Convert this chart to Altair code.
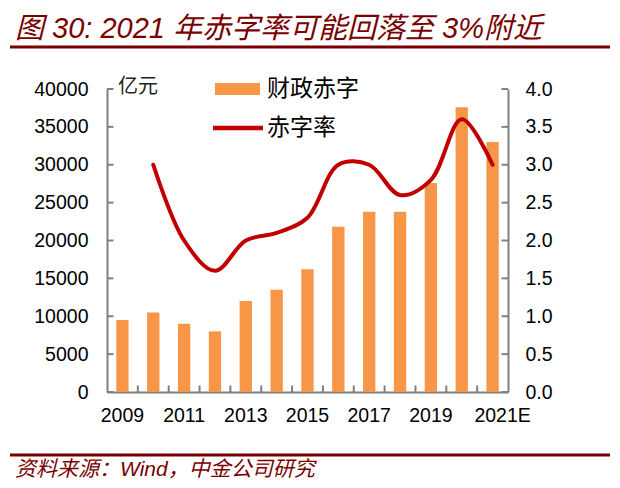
import altair as alt
import pandas as pd

# ---------------- data ----------------
years = ["2009", "2010", "2011", "2012", "2013", "2014", "2015",
         "2016", "2017", "2018", "2019", "2020", "2021E"]
deficit = [9500, 10500, 9000, 8000, 12000, 13500, 16200,
           21800, 23800, 23800, 27600, 37600, 33000]
rate_years = ["2010", "2011", "2012", "2013", "2014", "2015",
              "2016", "2017", "2018", "2019", "2020", "2021E"]
rate = [3.0, 2.0, 1.6, 2.0, 2.1, 2.3, 3.0, 3.0, 2.6, 2.8, 3.6, 3.0]
x_label_years = ["2009", "2011", "2013", "2015", "2017", "2019", "2021E"]
left_ticks = [0, 5000, 10000, 15000, 20000, 25000, 30000, 35000, 40000]
right_ticks = [0.0, 0.5, 1.0, 1.5, 2.0, 2.5, 3.0, 3.5, 4.0]
title_text = ["图 30: 2021 年赤字率可能回落至 3%附近"]
source_text = ["资料来源：Wind，中金公司研究"]
unit_text = ["亿元"]
legend_bar_label = ["财政赤字"]
legend_line_label = ["赤字率"]

# ---------------- styling ----------------
W, H = 401, 303
LATIN = "Liberation Sans, Noto Sans CJK SC"
CJK = "Noto Sans CJK SC"
ORANGE = "#F79646"
RED = "#C00000"
MAROON = "#7A0000"
GRAY = "#808080"

bar_df = pd.DataFrame({"year": years, "deficit": deficit})
rate_df = pd.DataFrame({"year": rate_years, "rate": rate})

x_scale = alt.Scale(domain=years, paddingInner=0, paddingOuter=0)
x_axis = alt.Axis(values=x_label_years, title=None, labelAngle=0, ticks=False,
                  domainColor=GRAY, domainWidth=2, labelFont=LATIN,
                  labelFontSize=19.5, labelColor="black", labelPadding=14,
                  labelOffset=alt.condition("datum.value == '2021E'", alt.value(10), alt.value(0)))

bars = alt.Chart(bar_df).mark_bar(color=ORANGE, width=alt.RelativeBandSize(0.4)).encode(
    x=alt.X("year:N", scale=x_scale, sort=years, axis=x_axis),
    y=alt.Y("deficit:Q", scale=alt.Scale(domain=[0, 40000], nice=False),
            axis=alt.Axis(values=left_ticks, format="d", title=None, ticks=False, grid=False,
                          domainColor=GRAY, domainWidth=2, labelFont=LATIN,
                          labelFontSize=19.5, labelColor="black", labelPadding=19)),
)

line = alt.Chart(rate_df).mark_line(color=RED, strokeWidth=4, interpolate="catmull-rom",
                                    strokeCap="round").encode(
    x=alt.X("year:N", scale=x_scale, sort=years, axis=x_axis),
    y=alt.Y("rate:Q", scale=alt.Scale(domain=[0, 4], nice=False),
            axis=alt.Axis(orient="right", values=right_ticks, format=".1f", title=None,
                          ticks=False, grid=False, domainColor=GRAY, domainWidth=2,
                          labelFont=LATIN, labelFontSize=19.5, labelColor="black",
                          labelPadding=17)),
)

# inward ticks
lt = alt.Chart(pd.DataFrame({"v": left_ticks})).mark_rule(color=GRAY, strokeWidth=2).encode(
    y=alt.Y("v:Q", scale=alt.Scale(domain=[0, 40000], nice=False), axis=None),
    x=alt.value(0), x2=alt.value(6.5))
rt = alt.Chart(pd.DataFrame({"w": right_ticks})).mark_rule(color=GRAY, strokeWidth=2).encode(
    y=alt.Y("w:Q", scale=alt.Scale(domain=[0, 4], nice=False), axis=None),
    x=alt.value(W - 6.5), x2=alt.value(W))
xt = alt.Chart(pd.DataFrame({"year": years[1:]})).mark_rule(color=GRAY, strokeWidth=2).encode(
    x=alt.X("year:N", scale=x_scale, sort=years, bandPosition=0, axis=x_axis),
    y=alt.value(H - 6.5), y2=alt.value(H))

# texts / decorations
title = alt.Chart(pd.DataFrame({"t": title_text})).mark_text(
    align="left", baseline="middle", fontSize=29, fontStyle="italic", font=LATIN, color=MAROON
).encode(text="t:N", x=alt.value(-92), y=alt.value(-60))
title_rule = alt.Chart(pd.DataFrame({"t": title_text})).mark_rule(color=MAROON, strokeWidth=3).encode(
    x=alt.value(-97), x2=alt.value(503), y=alt.value(-42))
src_rule = alt.Chart(pd.DataFrame({"t": source_text})).mark_rule(color=MAROON, strokeWidth=3).encode(
    x=alt.value(-97), x2=alt.value(503), y=alt.value(366))
src = alt.Chart(pd.DataFrame({"t": source_text})).mark_text(
    align="left", baseline="middle", fontSize=21, fontStyle="italic", font=LATIN, color=MAROON
).encode(text="t:N", x=alt.value(-92), y=alt.value(381))
unit = alt.Chart(pd.DataFrame({"t": unit_text})).mark_text(
    align="left", baseline="middle", fontSize=20, font=CJK, color="#222222"
).encode(text="t:N", x=alt.value(11), y=alt.value(-2))

leg_rect = alt.Chart(pd.DataFrame({"t": legend_bar_label})).mark_rect(color=ORANGE).encode(
    x=alt.value(108), x2=alt.value(153), y=alt.value(-6), y2=alt.value(6))
leg_text1 = alt.Chart(pd.DataFrame({"t": legend_bar_label})).mark_text(
    align="left", baseline="middle", fontSize=23, font=CJK, color="black"
).encode(text="t:N", x=alt.value(160), y=alt.value(0))
leg_line = alt.Chart(pd.DataFrame({"t": legend_line_label})).mark_rule(color=RED, strokeWidth=4.5).encode(
    x=alt.value(106), x2=alt.value(156), y=alt.value(39))
leg_text2 = alt.Chart(pd.DataFrame({"t": legend_line_label})).mark_text(
    align="left", baseline="middle", fontSize=23, font=CJK, color="black"
).encode(text="t:N", x=alt.value(160), y=alt.value(39))

chart = alt.layer(
    bars, line, lt, rt, xt, title, title_rule, src_rule, src, unit,
    leg_rect, leg_text1, leg_line, leg_text2
).resolve_scale(y="independent").properties(
    width=W, height=H,
    autosize=alt.AutoSizeParams(type="none"),
    padding={"left": 99, "top": 81, "right": 104, "bottom": 88},
).configure_view(stroke=None)

chart.save("out.html", embed_options={"renderer": "svg", "actions": False})
